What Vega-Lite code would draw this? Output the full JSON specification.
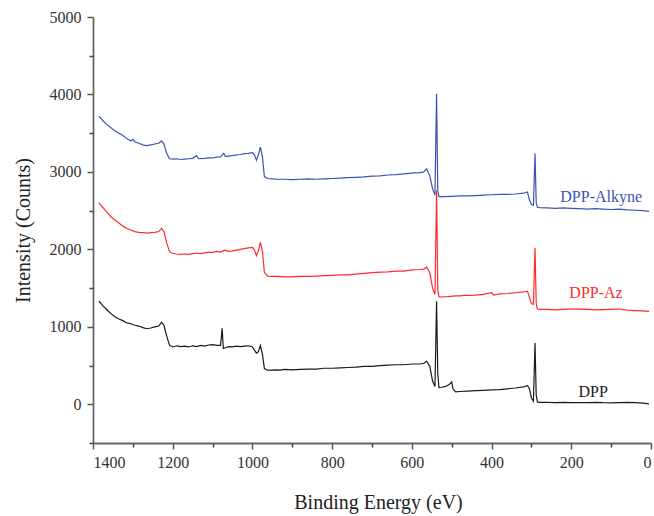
{
 "$schema": "https://vega.github.io/schema/vega-lite/v6.json",
 "width": 558, "height": 426,
 "autosize": "none",
 "padding": {"left": 93, "top": 17, "right": 3, "bottom": 73},
 "background": "white",
 "config": {"view": {"stroke": null}, "font": "Liberation Serif"},
 "datasets": {
  "spec": [
   {"s":"DPP","e":1385,"i":1330},{"s":"DPP","e":1375,"i":1270},{"s":"DPP","e":1365,"i":1220},{"s":"DPP","e":1355,"i":1170},{"s":"DPP","e":1345,"i":1130},{"s":"DPP","e":1335,"i":1100},{"s":"DPP","e":1325,"i":1080},{"s":"DPP","e":1315,"i":1050},{"s":"DPP","e":1305,"i":1040},{"s":"DPP","e":1295,"i":1020},{"s":"DPP","e":1285,"i":1010},{"s":"DPP","e":1275,"i":990},{"s":"DPP","e":1265,"i":975},{"s":"DPP","e":1255,"i":985},{"s":"DPP","e":1245,"i":1000},{"s":"DPP","e":1235,"i":1010},{"s":"DPP","e":1228,"i":1060},{"s":"DPP","e":1222,"i":1020},{"s":"DPP","e":1215,"i":880},{"s":"DPP","e":1208,"i":760},{"s":"DPP","e":1200,"i":740},{"s":"DPP","e":1190,"i":755},{"s":"DPP","e":1180,"i":745},{"s":"DPP","e":1170,"i":750},{"s":"DPP","e":1160,"i":740},{"s":"DPP","e":1150,"i":755},{"s":"DPP","e":1140,"i":745},{"s":"DPP","e":1130,"i":760},{"s":"DPP","e":1120,"i":750},{"s":"DPP","e":1110,"i":765},{"s":"DPP","e":1100,"i":770},{"s":"DPP","e":1090,"i":760},{"s":"DPP","e":1080,"i":760},{"s":"DPP","e":1076,"i":980},{"s":"DPP","e":1073,"i":720},{"s":"DPP","e":1068,"i":730},{"s":"DPP","e":1060,"i":745},{"s":"DPP","e":1050,"i":740},{"s":"DPP","e":1040,"i":750},{"s":"DPP","e":1030,"i":745},{"s":"DPP","e":1020,"i":750},{"s":"DPP","e":1010,"i":755},{"s":"DPP","e":1000,"i":740},{"s":"DPP","e":995,"i":700},{"s":"DPP","e":990,"i":660},{"s":"DPP","e":985,"i":680},{"s":"DPP","e":980,"i":760},{"s":"DPP","e":975,"i":650},{"s":"DPP","e":970,"i":460},{"s":"DPP","e":962,"i":440},{"s":"DPP","e":950,"i":440},{"s":"DPP","e":940,"i":445},{"s":"DPP","e":930,"i":440},{"s":"DPP","e":920,"i":450},{"s":"DPP","e":900,"i":445},{"s":"DPP","e":880,"i":450},{"s":"DPP","e":860,"i":455},{"s":"DPP","e":840,"i":455},{"s":"DPP","e":820,"i":465},{"s":"DPP","e":800,"i":465},{"s":"DPP","e":780,"i":470},{"s":"DPP","e":760,"i":475},{"s":"DPP","e":740,"i":480},{"s":"DPP","e":720,"i":490},{"s":"DPP","e":700,"i":490},{"s":"DPP","e":680,"i":500},{"s":"DPP","e":660,"i":505},{"s":"DPP","e":640,"i":510},{"s":"DPP","e":620,"i":510},{"s":"DPP","e":600,"i":520},{"s":"DPP","e":580,"i":520},{"s":"DPP","e":570,"i":530},{"s":"DPP","e":563,"i":555},{"s":"DPP","e":555,"i":490},{"s":"DPP","e":548,"i":300},{"s":"DPP","e":542,"i":230},{"s":"DPP","e":538,"i":1330},{"s":"DPP","e":535,"i":400},{"s":"DPP","e":532,"i":215},{"s":"DPP","e":525,"i":220},{"s":"DPP","e":515,"i":230},{"s":"DPP","e":505,"i":260},{"s":"DPP","e":500,"i":290},{"s":"DPP","e":497,"i":200},{"s":"DPP","e":490,"i":160},{"s":"DPP","e":480,"i":165},{"s":"DPP","e":460,"i":170},{"s":"DPP","e":440,"i":175},{"s":"DPP","e":420,"i":180},{"s":"DPP","e":400,"i":185},{"s":"DPP","e":380,"i":190},{"s":"DPP","e":360,"i":200},{"s":"DPP","e":340,"i":210},{"s":"DPP","e":320,"i":225},{"s":"DPP","e":310,"i":240},{"s":"DPP","e":305,"i":200},{"s":"DPP","e":300,"i":80},{"s":"DPP","e":295,"i":40},{"s":"DPP","e":291,"i":790},{"s":"DPP","e":288,"i":120},{"s":"DPP","e":285,"i":30},{"s":"DPP","e":280,"i":25},{"s":"DPP","e":260,"i":25},{"s":"DPP","e":240,"i":22},{"s":"DPP","e":220,"i":25},{"s":"DPP","e":200,"i":20},{"s":"DPP","e":180,"i":22},{"s":"DPP","e":160,"i":20},{"s":"DPP","e":140,"i":25},{"s":"DPP","e":120,"i":20},{"s":"DPP","e":100,"i":18},{"s":"DPP","e":80,"i":22},{"s":"DPP","e":60,"i":25},{"s":"DPP","e":40,"i":20},{"s":"DPP","e":20,"i":15},{"s":"DPP","e":5,"i":5},
   {"s":"DPP-Az","e":1385,"i":2600},{"s":"DPP-Az","e":1375,"i":2540},{"s":"DPP-Az","e":1365,"i":2480},{"s":"DPP-Az","e":1355,"i":2420},{"s":"DPP-Az","e":1345,"i":2380},{"s":"DPP-Az","e":1335,"i":2340},{"s":"DPP-Az","e":1325,"i":2300},{"s":"DPP-Az","e":1315,"i":2270},{"s":"DPP-Az","e":1305,"i":2250},{"s":"DPP-Az","e":1295,"i":2230},{"s":"DPP-Az","e":1285,"i":2220},{"s":"DPP-Az","e":1275,"i":2215},{"s":"DPP-Az","e":1265,"i":2210},{"s":"DPP-Az","e":1255,"i":2215},{"s":"DPP-Az","e":1245,"i":2220},{"s":"DPP-Az","e":1235,"i":2230},{"s":"DPP-Az","e":1228,"i":2270},{"s":"DPP-Az","e":1222,"i":2230},{"s":"DPP-Az","e":1215,"i":2080},{"s":"DPP-Az","e":1208,"i":1970},{"s":"DPP-Az","e":1200,"i":1950},{"s":"DPP-Az","e":1190,"i":1940},{"s":"DPP-Az","e":1180,"i":1935},{"s":"DPP-Az","e":1170,"i":1940},{"s":"DPP-Az","e":1160,"i":1935},{"s":"DPP-Az","e":1150,"i":1945},{"s":"DPP-Az","e":1140,"i":1950},{"s":"DPP-Az","e":1130,"i":1945},{"s":"DPP-Az","e":1120,"i":1955},{"s":"DPP-Az","e":1110,"i":1960},{"s":"DPP-Az","e":1100,"i":1960},{"s":"DPP-Az","e":1090,"i":1975},{"s":"DPP-Az","e":1080,"i":1965},{"s":"DPP-Az","e":1070,"i":1990},{"s":"DPP-Az","e":1060,"i":1975},{"s":"DPP-Az","e":1050,"i":1980},{"s":"DPP-Az","e":1040,"i":1990},{"s":"DPP-Az","e":1030,"i":2000},{"s":"DPP-Az","e":1020,"i":2010},{"s":"DPP-Az","e":1010,"i":2020},{"s":"DPP-Az","e":1000,"i":2025},{"s":"DPP-Az","e":995,"i":1990},{"s":"DPP-Az","e":990,"i":1920},{"s":"DPP-Az","e":985,"i":1980},{"s":"DPP-Az","e":980,"i":2090},{"s":"DPP-Az","e":975,"i":1980},{"s":"DPP-Az","e":970,"i":1700},{"s":"DPP-Az","e":962,"i":1655},{"s":"DPP-Az","e":950,"i":1650},{"s":"DPP-Az","e":940,"i":1650},{"s":"DPP-Az","e":920,"i":1645},{"s":"DPP-Az","e":900,"i":1645},{"s":"DPP-Az","e":880,"i":1650},{"s":"DPP-Az","e":860,"i":1650},{"s":"DPP-Az","e":840,"i":1655},{"s":"DPP-Az","e":820,"i":1660},{"s":"DPP-Az","e":800,"i":1665},{"s":"DPP-Az","e":780,"i":1670},{"s":"DPP-Az","e":760,"i":1670},{"s":"DPP-Az","e":740,"i":1680},{"s":"DPP-Az","e":720,"i":1690},{"s":"DPP-Az","e":700,"i":1700},{"s":"DPP-Az","e":680,"i":1705},{"s":"DPP-Az","e":660,"i":1710},{"s":"DPP-Az","e":640,"i":1720},{"s":"DPP-Az","e":620,"i":1720},{"s":"DPP-Az","e":600,"i":1735},{"s":"DPP-Az","e":580,"i":1740},{"s":"DPP-Az","e":570,"i":1745},{"s":"DPP-Az","e":563,"i":1770},{"s":"DPP-Az","e":555,"i":1700},{"s":"DPP-Az","e":548,"i":1500},{"s":"DPP-Az","e":542,"i":1420},{"s":"DPP-Az","e":538,"i":2760},{"s":"DPP-Az","e":535,"i":1480},{"s":"DPP-Az","e":532,"i":1390},{"s":"DPP-Az","e":525,"i":1385},{"s":"DPP-Az","e":510,"i":1390},{"s":"DPP-Az","e":490,"i":1400},{"s":"DPP-Az","e":480,"i":1400},{"s":"DPP-Az","e":470,"i":1405},{"s":"DPP-Az","e":460,"i":1405},{"s":"DPP-Az","e":440,"i":1410},{"s":"DPP-Az","e":420,"i":1420},{"s":"DPP-Az","e":400,"i":1440},{"s":"DPP-Az","e":395,"i":1410},{"s":"DPP-Az","e":380,"i":1425},{"s":"DPP-Az","e":360,"i":1430},{"s":"DPP-Az","e":340,"i":1440},{"s":"DPP-Az","e":320,"i":1450},{"s":"DPP-Az","e":310,"i":1460},{"s":"DPP-Az","e":305,"i":1380},{"s":"DPP-Az","e":300,"i":1300},{"s":"DPP-Az","e":295,"i":1290},{"s":"DPP-Az","e":291,"i":2020},{"s":"DPP-Az","e":288,"i":1300},{"s":"DPP-Az","e":285,"i":1230},{"s":"DPP-Az","e":280,"i":1225},{"s":"DPP-Az","e":260,"i":1225},{"s":"DPP-Az","e":240,"i":1220},{"s":"DPP-Az","e":220,"i":1225},{"s":"DPP-Az","e":200,"i":1230},{"s":"DPP-Az","e":180,"i":1228},{"s":"DPP-Az","e":160,"i":1225},{"s":"DPP-Az","e":140,"i":1220},{"s":"DPP-Az","e":120,"i":1222},{"s":"DPP-Az","e":100,"i":1225},{"s":"DPP-Az","e":80,"i":1230},{"s":"DPP-Az","e":60,"i":1215},{"s":"DPP-Az","e":40,"i":1210},{"s":"DPP-Az","e":20,"i":1205},{"s":"DPP-Az","e":5,"i":1200},
   {"s":"DPP-Alkyne","e":1385,"i":3720},{"s":"DPP-Alkyne","e":1375,"i":3660},{"s":"DPP-Alkyne","e":1365,"i":3610},{"s":"DPP-Alkyne","e":1355,"i":3570},{"s":"DPP-Alkyne","e":1345,"i":3530},{"s":"DPP-Alkyne","e":1335,"i":3500},{"s":"DPP-Alkyne","e":1325,"i":3470},{"s":"DPP-Alkyne","e":1315,"i":3430},{"s":"DPP-Alkyne","e":1305,"i":3400},{"s":"DPP-Alkyne","e":1300,"i":3420},{"s":"DPP-Alkyne","e":1295,"i":3390},{"s":"DPP-Alkyne","e":1285,"i":3370},{"s":"DPP-Alkyne","e":1275,"i":3350},{"s":"DPP-Alkyne","e":1265,"i":3340},{"s":"DPP-Alkyne","e":1255,"i":3350},{"s":"DPP-Alkyne","e":1245,"i":3360},{"s":"DPP-Alkyne","e":1235,"i":3370},{"s":"DPP-Alkyne","e":1228,"i":3400},{"s":"DPP-Alkyne","e":1222,"i":3360},{"s":"DPP-Alkyne","e":1215,"i":3240},{"s":"DPP-Alkyne","e":1208,"i":3170},{"s":"DPP-Alkyne","e":1200,"i":3165},{"s":"DPP-Alkyne","e":1190,"i":3170},{"s":"DPP-Alkyne","e":1180,"i":3160},{"s":"DPP-Alkyne","e":1170,"i":3165},{"s":"DPP-Alkyne","e":1160,"i":3170},{"s":"DPP-Alkyne","e":1150,"i":3175},{"s":"DPP-Alkyne","e":1140,"i":3210},{"s":"DPP-Alkyne","e":1135,"i":3170},{"s":"DPP-Alkyne","e":1120,"i":3175},{"s":"DPP-Alkyne","e":1110,"i":3180},{"s":"DPP-Alkyne","e":1100,"i":3180},{"s":"DPP-Alkyne","e":1090,"i":3190},{"s":"DPP-Alkyne","e":1080,"i":3195},{"s":"DPP-Alkyne","e":1072,"i":3240},{"s":"DPP-Alkyne","e":1068,"i":3200},{"s":"DPP-Alkyne","e":1060,"i":3205},{"s":"DPP-Alkyne","e":1050,"i":3210},{"s":"DPP-Alkyne","e":1040,"i":3220},{"s":"DPP-Alkyne","e":1030,"i":3225},{"s":"DPP-Alkyne","e":1020,"i":3235},{"s":"DPP-Alkyne","e":1010,"i":3240},{"s":"DPP-Alkyne","e":1000,"i":3250},{"s":"DPP-Alkyne","e":995,"i":3220},{"s":"DPP-Alkyne","e":990,"i":3150},{"s":"DPP-Alkyne","e":985,"i":3220},{"s":"DPP-Alkyne","e":980,"i":3320},{"s":"DPP-Alkyne","e":975,"i":3200},{"s":"DPP-Alkyne","e":970,"i":2940},{"s":"DPP-Alkyne","e":962,"i":2915},{"s":"DPP-Alkyne","e":950,"i":2910},{"s":"DPP-Alkyne","e":940,"i":2905},{"s":"DPP-Alkyne","e":920,"i":2905},{"s":"DPP-Alkyne","e":900,"i":2900},{"s":"DPP-Alkyne","e":880,"i":2905},{"s":"DPP-Alkyne","e":860,"i":2910},{"s":"DPP-Alkyne","e":840,"i":2905},{"s":"DPP-Alkyne","e":820,"i":2910},{"s":"DPP-Alkyne","e":800,"i":2915},{"s":"DPP-Alkyne","e":780,"i":2920},{"s":"DPP-Alkyne","e":760,"i":2925},{"s":"DPP-Alkyne","e":740,"i":2930},{"s":"DPP-Alkyne","e":720,"i":2935},{"s":"DPP-Alkyne","e":700,"i":2945},{"s":"DPP-Alkyne","e":680,"i":2950},{"s":"DPP-Alkyne","e":660,"i":2960},{"s":"DPP-Alkyne","e":640,"i":2965},{"s":"DPP-Alkyne","e":620,"i":2975},{"s":"DPP-Alkyne","e":600,"i":2985},{"s":"DPP-Alkyne","e":580,"i":2990},{"s":"DPP-Alkyne","e":570,"i":3000},{"s":"DPP-Alkyne","e":563,"i":3040},{"s":"DPP-Alkyne","e":555,"i":2950},{"s":"DPP-Alkyne","e":548,"i":2780},{"s":"DPP-Alkyne","e":542,"i":2700},{"s":"DPP-Alkyne","e":538,"i":4010},{"s":"DPP-Alkyne","e":535,"i":2760},{"s":"DPP-Alkyne","e":532,"i":2680},{"s":"DPP-Alkyne","e":520,"i":2680},{"s":"DPP-Alkyne","e":500,"i":2685},{"s":"DPP-Alkyne","e":480,"i":2690},{"s":"DPP-Alkyne","e":460,"i":2690},{"s":"DPP-Alkyne","e":440,"i":2695},{"s":"DPP-Alkyne","e":420,"i":2700},{"s":"DPP-Alkyne","e":400,"i":2705},{"s":"DPP-Alkyne","e":380,"i":2710},{"s":"DPP-Alkyne","e":360,"i":2710},{"s":"DPP-Alkyne","e":340,"i":2715},{"s":"DPP-Alkyne","e":320,"i":2725},{"s":"DPP-Alkyne","e":310,"i":2740},{"s":"DPP-Alkyne","e":305,"i":2640},{"s":"DPP-Alkyne","e":300,"i":2580},{"s":"DPP-Alkyne","e":295,"i":2570},{"s":"DPP-Alkyne","e":291,"i":3240},{"s":"DPP-Alkyne","e":288,"i":2600},{"s":"DPP-Alkyne","e":285,"i":2545},{"s":"DPP-Alkyne","e":280,"i":2540},{"s":"DPP-Alkyne","e":260,"i":2535},{"s":"DPP-Alkyne","e":240,"i":2530},{"s":"DPP-Alkyne","e":220,"i":2535},{"s":"DPP-Alkyne","e":200,"i":2530},{"s":"DPP-Alkyne","e":180,"i":2525},{"s":"DPP-Alkyne","e":160,"i":2520},{"s":"DPP-Alkyne","e":140,"i":2525},{"s":"DPP-Alkyne","e":120,"i":2520},{"s":"DPP-Alkyne","e":100,"i":2515},{"s":"DPP-Alkyne","e":80,"i":2520},{"s":"DPP-Alkyne","e":60,"i":2510},{"s":"DPP-Alkyne","e":40,"i":2505},{"s":"DPP-Alkyne","e":20,"i":2500},{"s":"DPP-Alkyne","e":5,"i":2490}
  ],
  "labels": [
   {"s":"DPP-Alkyne","e":125,"i":2680,"t":"DPP-Alkyne"},
   {"s":"DPP-Az","e":138,"i":1443,"t":"DPP-Az"},
   {"s":"DPP","e":145,"i":155,"t":"DPP"}
  ]
 },
 "layer": [
  {
   "data": {"name": "spec"},
   "mark": {"type": "line", "strokeWidth": 1.2, "clip": true},
   "encoding": {
    "x": {"field": "e", "type": "quantitative", "scale": {"domain": [0, 1400], "reverse": true, "nice": false, "zero": false},
     "axis": {"orient": "bottom", "values": [0,200,400,600,800,1000,1200,1400], "format": "d", "title": "Binding Energy (eV)", "titleFont": "Liberation Serif", "titleFontSize": 20, "titleFontWeight": "normal", "titleColor": "#222", "titlePadding": 22, "titleX": 285, "labelFont": "Liberation Serif", "labelFontSize": 16, "labelColor": "#333", "labelPadding": 5, "domainColor": "#666", "domainWidth": 1.8, "tickColor": "#555", "tickWidth": 1.5, "tickSize": 6, "grid": false}},
    "y": {"field": "i", "type": "quantitative", "scale": {"domain": [-500, 5000], "nice": false, "zero": false},
     "axis": {"orient": "left", "values": [0,1000,2000,3000,4000,5000], "format": "d", "title": "Intensity (Counts)", "titleFont": "Liberation Serif", "titleFontSize": 20, "titleFontWeight": "normal", "titleColor": "#222", "titlePadding": 16, "labelFont": "Liberation Serif", "labelFontSize": 16, "labelColor": "#333", "labelPadding": 6, "domainColor": "#666", "domainWidth": 1.8, "tickColor": "#555", "tickWidth": 1.5, "tickSize": 6, "grid": false}},
    "color": {"field": "s", "type": "nominal", "scale": {"domain": ["DPP", "DPP-Az", "DPP-Alkyne"], "range": ["#1a1a1a", "#ff2a2a", "#3d52b0"]}, "legend": null}
   }
  },
  {
   "data": {"name": "labels"},
   "mark": {"type": "text", "font": "Liberation Serif", "fontSize": 16},
   "encoding": {
    "x": {"field": "e", "type": "quantitative",
     "axis": {"orient": "bottom", "offset": 0, "values": [100,300,500,700,900,1100,1300], "labels": false, "title": null, "domain": false, "tickColor": "#444", "tickWidth": 1.5, "tickSize": 4, "grid": false}},
    "y": {"field": "i", "type": "quantitative",
     "axis": {"orient": "left", "offset": 0, "values": [-500,500,1500,2500,3500,4500], "labels": false, "title": null, "domain": false, "tickColor": "#444", "tickWidth": 1.5, "tickSize": 4, "grid": false}},
    "text": {"field": "t"},
    "color": {"field": "s", "type": "nominal", "legend": null}
   }
  }
 ],
 "resolve": {"axis": {"x": "independent", "y": "independent"}}
}
